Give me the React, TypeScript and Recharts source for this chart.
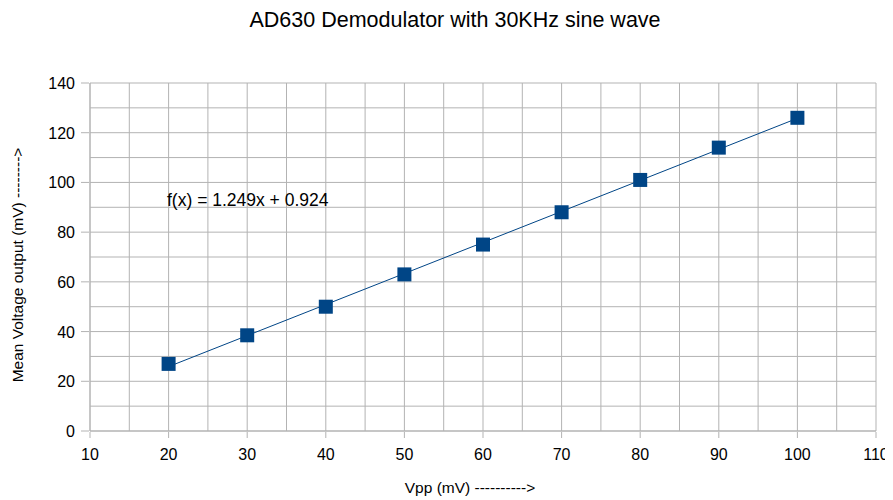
import React from 'react';
import { ScatterChart, Scatter, XAxis, YAxis, CartesianGrid } from 'recharts';

// measured points (Vpp in mV vs mean output in mV)
const vpp = [20, 30, 40, 50, 60, 70, 80, 90, 100];
const meanOut = [27, 38.5, 50, 63, 75, 88, 101, 114, 126];

// linear trend line f(x) = 1.249x + 0.924, drawn between first and last x
const trendX = [20, 100];
const trendY = [25.9, 125.8];

const xTicks = [10, 15, 20, 25, 30, 35, 40, 45, 50, 55, 60, 65, 70, 75, 80, 85, 90, 95, 100, 105, 110];
const yTicks = [0, 10, 20, 30, 40, 50, 60, 70, 80, 90, 100, 110, 120, 130, 140];

const points = vpp.map((x, i) => ({ x, y: meanOut[i] }));
const trend = trendX.map((x, i) => ({ x, y: trendY[i] }));

const BLUE = '#004586';
const GRID = '#b3b3b3';
const FONT = '"Liberation Sans", Arial, sans-serif';

// only every other tick gets a label and a tick mark, the rest are just grid lines
const XTick = (props: any) => {
  const { x, y, payload } = props;
  if (payload.value % 10 !== 0) return null;
  return (
    <g>
      <line x1={x} x2={x} y1={y - 7} y2={y - 1} stroke={GRID} />
      <text x={x} y={y + 21} textAnchor="middle" fontSize={16} fill="#000" fontFamily={FONT}>
        {payload.value}
      </text>
    </g>
  );
};

const YTick = (props: any) => {
  const { x, y, payload } = props;
  if (payload.value % 20 !== 0) return null;
  return (
    <g>
      <line x1={x - 1} x2={x + 7} y1={y} y2={y} stroke={GRID} />
      <text x={x - 7} y={y + 6} textAnchor="end" fontSize={16} fill="#000" fontFamily={FONT}>
        {payload.value}
      </text>
    </g>
  );
};

const Square = (p: any) => (
  <rect x={p.cx - 7} y={p.cy - 7} width={14} height={14} fill={BLUE} />
);

const App = () => {
  return (
    <div style={{ position: 'relative', width: 893, height: 500, margin: '-8px 0 0 -8px', background: '#fff', fontFamily: FONT }}>
      <div style={{ position: 'absolute', left: 0, width: 910, top: 7, textAlign: 'center', fontSize: 21.5, lineHeight: '26px' }}>
        AD630 Demodulator with 30KHz sine wave
      </div>
      <ScatterChart width={893} height={500} margin={{ top: 83, right: 17, bottom: 39, left: 0 }}>
        <CartesianGrid stroke={GRID} strokeWidth={1} />
        <XAxis
          type="number"
          dataKey="x"
          domain={[10, 110]}
          ticks={xTicks}
          interval={0}
          tickLine={false}
          axisLine={{ stroke: GRID }}
          tick={<XTick />}
          height={30}
        />
        <YAxis
          type="number"
          dataKey="y"
          domain={[0, 140]}
          ticks={yTicks}
          interval={0}
          tickLine={false}
          axisLine={{ stroke: GRID }}
          tick={<YTick />}
          width={90}
        />
        <Scatter data={trend} line={{ stroke: BLUE, strokeWidth: 1 }} shape={() => null} isAnimationActive={false} />
        <Scatter data={points} shape={<Square />} isAnimationActive={false} />
      </ScatterChart>
      <div style={{ position: 'absolute', left: 167, top: 190, fontSize: 17.5, lineHeight: '20px', whiteSpace: 'nowrap' }}>
        f(x) = 1.249x + 0.924
      </div>
      <div
        style={{
          position: 'absolute',
          left: 18,
          top: 265,
          fontSize: 15.5,
          whiteSpace: 'nowrap',
          transform: 'translate(-50%, -50%) rotate(-90deg)',
        }}
      >
        Mean Voltage output (mV) --------&gt;
      </div>
      <div style={{ position: 'absolute', left: 470, top: 488, fontSize: 15.5, whiteSpace: 'nowrap', transform: 'translate(-50%, -50%)' }}>
        Vpp (mV) ----------&gt;
      </div>
    </div>
  );
};

export default App;
